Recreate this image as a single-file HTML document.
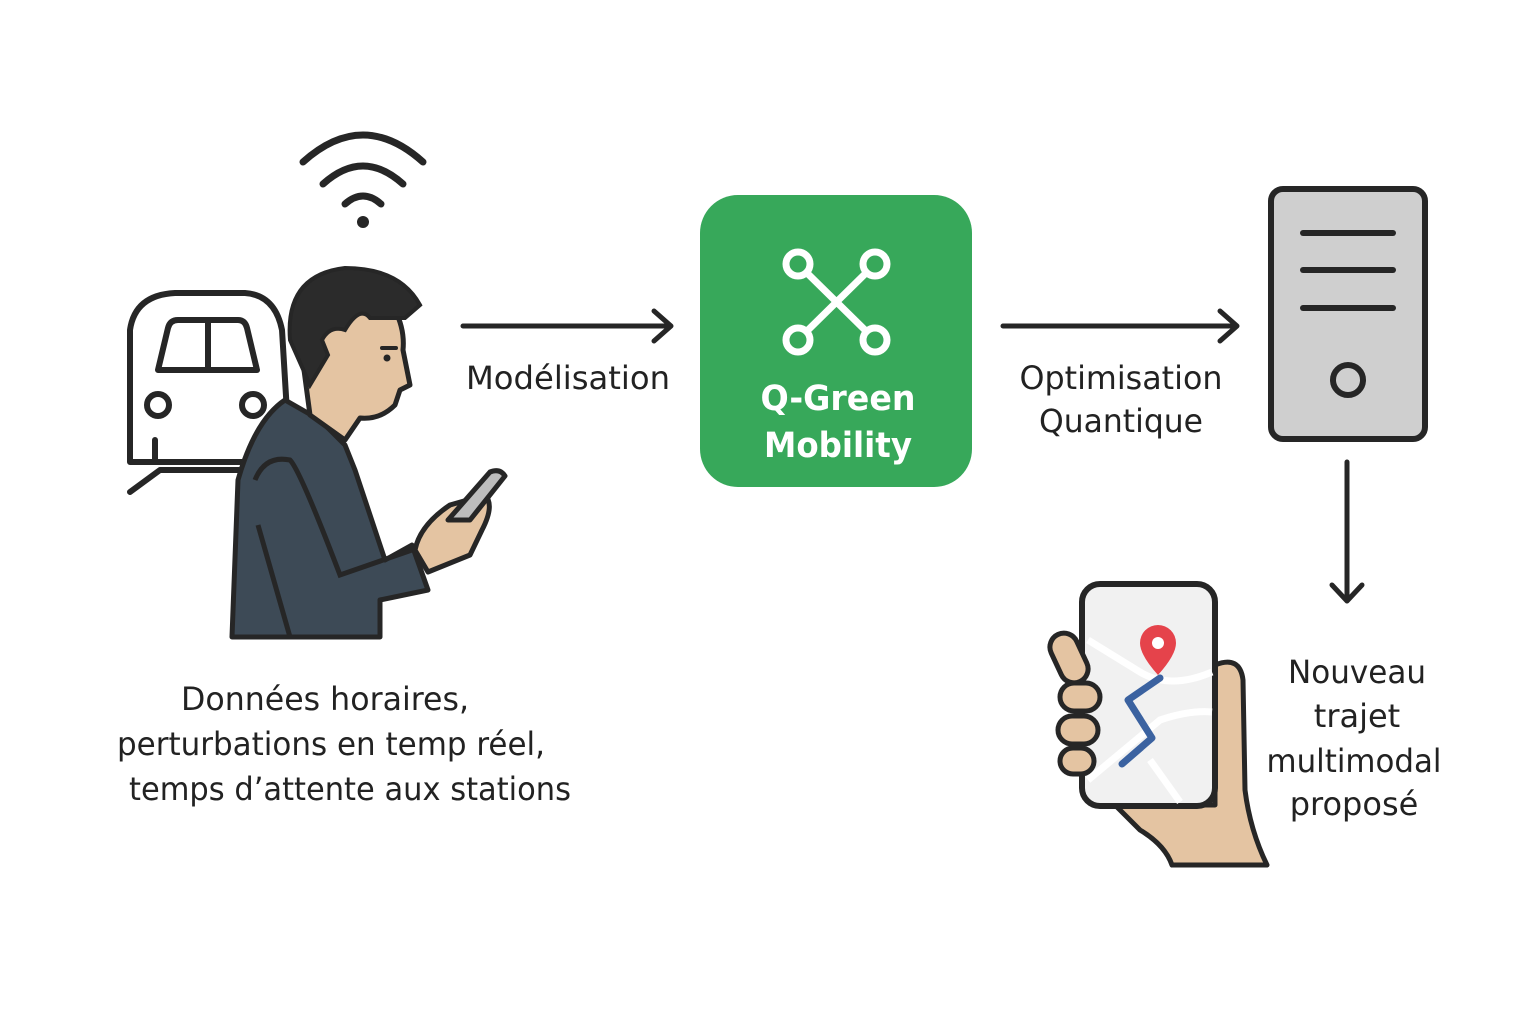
<!DOCTYPE html>
<html><head><meta charset="utf-8"><style>
html,body{margin:0;padding:0;background:#fff;}
svg{display:block}
text{font-family:"DejaVu Sans","Liberation Sans",sans-serif;fill:#222;}
</style></head><body>
<svg width="1536" height="1021" viewBox="0 0 1536 1021" xmlns="http://www.w3.org/2000/svg">
<g fill="none" stroke="#262626" stroke-linecap="round" stroke-linejoin="round">
<path d="M303 162 Q363 108 423 162" stroke-width="7"/>
<path d="M323 184 Q363 148 403 184" stroke-width="7"/>
<path d="M345 204 Q363 188 381 204" stroke-width="7"/>
</g>
<circle cx="363" cy="222" r="6" fill="#262626"/>
<g fill="#fff" stroke="#262626" stroke-width="6" stroke-linejoin="round" stroke-linecap="round">
<path d="M130 462 L130 330 Q135 295 175 293 L245 293 Q275 295 282 330 L290 462 Z"/>
<path d="M158 370 L168 328 Q170 320 178 320 L238 320 Q245 320 247 328 L257 370 Z"/>
<line x1="208" y1="322" x2="208" y2="368"/>
<circle cx="158" cy="405" r="11"/>
<circle cx="253" cy="405" r="11"/>
<path d="M155 440 L155 462 L290 462"/>
<path d="M130 492 L160 470 L290 470"/>
</g>
<path d="M232 637 L238 480 Q255 420 285 400 L320 420 L345 445 L355 470 L385 560 L412 545 L428 590 L380 600 L380 637 Z" fill="#3d4a56" stroke="#262626" stroke-width="5" stroke-linejoin="round"/>
<path d="M255 480 Q265 455 290 460 Q300 470 340 575 L412 550" fill="none" stroke="#262626" stroke-width="5"/>
<path d="M258 525 L290 637" fill="none" stroke="#262626" stroke-width="5"/>
<path d="M300 340 Q300 300 340 300 L395 310 Q405 330 403 350 L410 385 L400 390 L395 405 Q380 420 360 418 L345 440 L310 415 Z" fill="#e4c4a2" stroke="#262626" stroke-width="5" stroke-linejoin="round"/>
<path d="M290 340 Q285 275 345 268 Q400 268 420 305 L405 318 L370 318 Q360 305 345 330 Q330 325 322 340 L328 355 L310 385 Z" fill="#2b2b2b" stroke="#262626" stroke-width="4"/>
<line x1="382" y1="348" x2="396" y2="348" stroke="#262626" stroke-width="4" stroke-linecap="round"/>
<circle cx="387" cy="358" r="3.5" fill="#262626"/>
<path d="M415 550 Q420 525 450 505 L485 495 Q495 505 482 530 L470 555 L428 572 Z" fill="#e4c4a2" stroke="#262626" stroke-width="5" stroke-linejoin="round"/>
<path d="M448 520 L490 472 Q500 468 505 476 L470 520 Z" fill="#bdbdbd" stroke="#262626" stroke-width="5" stroke-linejoin="round"/>
<g stroke="#262626" stroke-width="5" fill="none" stroke-linecap="round" stroke-linejoin="round">
<line x1="463" y1="326" x2="670" y2="326"/><path d="M654 311 L671 326 L654 341"/>
<line x1="1003" y1="326" x2="1236" y2="326"/><path d="M1220 311 L1237 326 L1220 341"/>
<line x1="1347" y1="462" x2="1347" y2="600"/><path d="M1332 585 L1347 601 L1362 585"/>
</g>
<rect x="700" y="195" width="272" height="292" rx="38" fill="#37a85a"/>
<g stroke="#fff" stroke-width="7" fill="none">
<line x1="806" y1="272" x2="867" y2="332"/><line x1="867" y1="272" x2="806" y2="332"/>
<circle cx="798" cy="264" r="12"/><circle cx="875" cy="264" r="12"/>
<circle cx="798" cy="340" r="12"/><circle cx="875" cy="340" r="12"/>
</g>
<text x="838" y="410" text-anchor="middle" font-size="35" font-weight="bold" textLength="155" lengthAdjust="spacingAndGlyphs" style="fill:#fff">Q-Green</text>
<text x="838" y="457" text-anchor="middle" font-size="35" font-weight="bold" textLength="148" lengthAdjust="spacingAndGlyphs" style="fill:#fff">Mobility</text>
<rect x="1271" y="189" width="154" height="250" rx="12" fill="#cfcfcf" stroke="#262626" stroke-width="6"/>
<g stroke="#262626" stroke-width="6" stroke-linecap="round">
<line x1="1303" y1="233" x2="1393" y2="233"/><line x1="1303" y1="270" x2="1393" y2="270"/><line x1="1303" y1="308" x2="1393" y2="308"/>
</g>
<circle cx="1348" cy="380" r="15" fill="none" stroke="#262626" stroke-width="6"/>
<path d="M1215 665 Q1240 655 1243 680 L1245 790 Q1250 830 1267 865 L1172 865 Q1165 845 1140 830 L1115 805 L1215 805 Z" fill="#e4c4a2" stroke="#262626" stroke-width="5" stroke-linejoin="round"/>
<rect x="1082" y="584" width="133" height="222" rx="18" fill="#f1f1f1" stroke="#262626" stroke-width="6"/>
<g stroke="#fff" stroke-width="7" fill="none">
<path d="M1088 640 L1140 672 Q1170 690 1212 672"/>
<path d="M1088 780 L1160 720 Q1190 710 1212 712"/>
<path d="M1150 760 L1180 802"/>
</g>
<path d="M1122 764 L1152 738 L1128 700 L1160 678" stroke="#3b62a0" stroke-width="7" fill="none" stroke-linecap="round" stroke-linejoin="round"/>
<path d="M1158 675 Q1140 655 1140 643 A18 18 0 0 1 1176 643 Q1176 655 1158 675 Z" fill="#e5434b"/>
<circle cx="1158" cy="643" r="6" fill="#fff"/>
<g fill="#e4c4a2" stroke="#262626" stroke-width="5">
<rect x="1055" y="632" width="28" height="52" rx="14" transform="rotate(-25 1069 658)"/>
<rect x="1060" y="683" width="40" height="28" rx="14"/>
<rect x="1058" y="716" width="40" height="28" rx="14"/>
<rect x="1060" y="748" width="34" height="26" rx="13"/>
</g>
<text x="568" y="389" text-anchor="middle" font-size="32" textLength="204" lengthAdjust="spacingAndGlyphs">Modélisation</text>
<text x="1121" y="389" text-anchor="middle" font-size="32" textLength="203" lengthAdjust="spacingAndGlyphs">Optimisation</text>
<text x="1121" y="432" text-anchor="middle" font-size="32" textLength="164" lengthAdjust="spacingAndGlyphs">Quantique</text>
<text x="325" y="710" text-anchor="middle" font-size="32" textLength="288" lengthAdjust="spacingAndGlyphs">Données horaires,</text>
<text x="331" y="755" text-anchor="middle" font-size="32" textLength="428" lengthAdjust="spacingAndGlyphs">perturbations en temp réel,</text>
<text x="350" y="800" text-anchor="middle" font-size="32" textLength="442" lengthAdjust="spacingAndGlyphs">temps d’attente aux stations</text>
<text x="1357" y="683" text-anchor="middle" font-size="32" textLength="138" lengthAdjust="spacingAndGlyphs">Nouveau</text>
<text x="1357" y="727" text-anchor="middle" font-size="32">trajet</text>
<text x="1354" y="772" text-anchor="middle" font-size="32" textLength="175" lengthAdjust="spacingAndGlyphs">multimodal</text>
<text x="1354" y="815" text-anchor="middle" font-size="32">proposé</text>
</svg>
</body></html>
